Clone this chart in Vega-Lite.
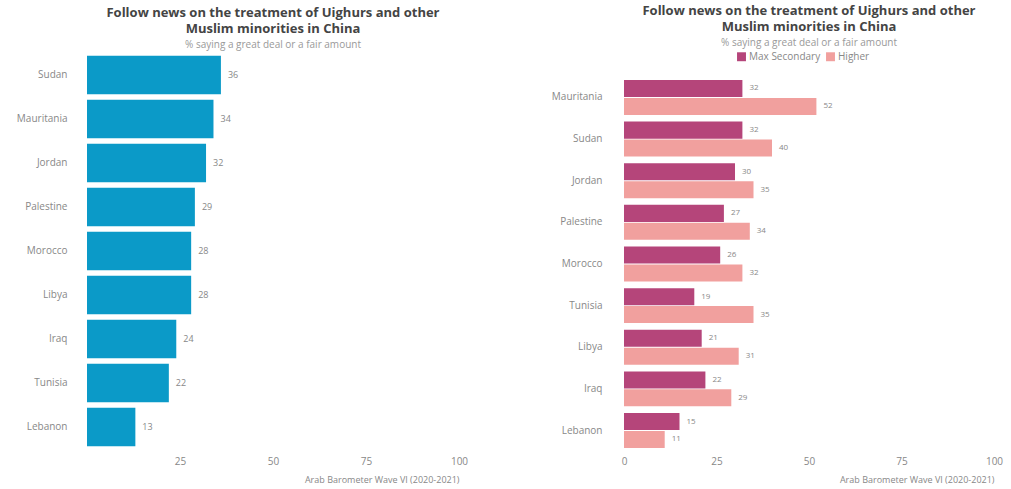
{
  "$schema": "https://vega.github.io/schema/vega-lite/v6.json",
  "background": "white",
  "padding": {"left": 16, "right": 5, "top": 5, "bottom": 0},
  "spacing": 83,
  "resolve": {"scale": {"color": "independent"}, "legend": {"color": "independent"}},
  "config": {
    "font": "Open Sans",
    "view": {"stroke": null},
    "axis": {"labelColor": "#888", "labelFont": "Open Sans", "titleFont": "Open Sans", "grid": false, "domain": false, "ticks": false, "labelFlush": false},
    "title": {"font": "Open Sans", "fontSize": 13, "fontWeight": "bold", "color": "#444", "lineHeight": 16, "subtitleColor": "#999", "subtitleFontSize": 10, "subtitleFont": "Open Sans", "anchor": "middle", "subtitlePadding": 4, "offset": 3}
  },
  "datasets": {
    "overall": [
      {"country": "Sudan", "value": 36},
      {"country": "Mauritania", "value": 34},
      {"country": "Jordan", "value": 32},
      {"country": "Palestine", "value": 29},
      {"country": "Morocco", "value": 28},
      {"country": "Libya", "value": 28},
      {"country": "Iraq", "value": 24},
      {"country": "Tunisia", "value": 22},
      {"country": "Lebanon", "value": 13}
    ],
    "education": [
      {"country": "Mauritania", "edu": "Max Secondary", "value": 32},
      {"country": "Mauritania", "edu": "Higher", "value": 52},
      {"country": "Sudan", "edu": "Max Secondary", "value": 32},
      {"country": "Sudan", "edu": "Higher", "value": 40},
      {"country": "Jordan", "edu": "Max Secondary", "value": 30},
      {"country": "Jordan", "edu": "Higher", "value": 35},
      {"country": "Palestine", "edu": "Max Secondary", "value": 27},
      {"country": "Palestine", "edu": "Higher", "value": 34},
      {"country": "Morocco", "edu": "Max Secondary", "value": 26},
      {"country": "Morocco", "edu": "Higher", "value": 32},
      {"country": "Tunisia", "edu": "Max Secondary", "value": 19},
      {"country": "Tunisia", "edu": "Higher", "value": 35},
      {"country": "Libya", "edu": "Max Secondary", "value": 21},
      {"country": "Libya", "edu": "Higher", "value": 31},
      {"country": "Iraq", "edu": "Max Secondary", "value": 22},
      {"country": "Iraq", "edu": "Higher", "value": 29},
      {"country": "Lebanon", "edu": "Max Secondary", "value": 15},
      {"country": "Lebanon", "edu": "Higher", "value": 11}
    ]
  },
  "hconcat": [
    {
      "width": 372,
      "height": 396,
      "title": {"text": ["Follow news on the treatment of Uighurs and other", "Muslim minorities in China"], "subtitle": "% saying a great deal or a fair amount"},
      "data": {"name": "overall"},
      "encoding": {
        "y": {"field": "country", "type": "nominal", "sort": null, "title": null, "scale": {"paddingInner": 0.12, "paddingOuter": 0.06}, "axis": {"labelFontSize": 10, "labelPadding": 20}},
        "x": {"field": "value", "type": "quantitative", "scale": {"domain": [0, 100]}, "axis": {"values": [25, 50, 75, 100], "labelFontSize": 10, "labelPadding": 7, "title": "Arab Barometer Wave VI (2020-2021)", "titleFontSize": 9, "titleFontWeight": "normal", "titleColor": "#888", "titleAnchor": "end", "titlePadding": 9}}
      },
      "layer": [
        {"mark": {"type": "bar", "color": "#0b9ac8"}},
        {"mark": {"type": "text", "align": "left", "dx": 7, "fontSize": 9, "color": "#888"}, "encoding": {"text": {"field": "value"}}}
      ]
    },
    {
      "width": 370,
      "height": 398,
      "title": {"text": ["Follow news on the treatment of Uighurs and other", "Muslim minorities in China"], "subtitle": "% saying a great deal or a fair amount"},
      "data": {"name": "education"},
      "encoding": {
        "y": {"field": "country", "type": "nominal", "sort": null, "title": null, "scale": {"paddingInner": 0.16, "paddingOuter": 0.36, "align": 0.9}, "axis": {"labelFontSize": 10, "labelPadding": 22}},
        "yOffset": {"field": "edu", "sort": ["Max Secondary", "Higher"], "scale": {"paddingInner": 0.05}},
        "x": {"field": "value", "type": "quantitative", "scale": {"domain": [0, 100]}, "axis": {"values": [0, 25, 50, 75, 100], "labelFontSize": 10, "labelPadding": 5, "title": "Arab Barometer Wave VI (2020-2021)", "titleFontSize": 9, "titleFontWeight": "normal", "titleColor": "#888", "titleAnchor": "end", "titlePadding": 9}}
      },
      "layer": [
        {"mark": {"type": "bar"}, "encoding": {"color": {"field": "edu", "sort": ["Max Secondary", "Higher"], "scale": {"domain": ["Max Secondary", "Higher"], "range": ["#b5457a", "#f1a09e"]}, "legend": {"title": null, "orient": "none", "legendX": 112, "legendY": -2, "direction": "horizontal", "symbolType": "square", "symbolSize": 80, "labelFontSize": 10, "labelColor": "#888", "columnPadding": 4, "labelOffset": 2, "padding": 0}}}},
        {"mark": {"type": "text", "align": "left", "dx": 7, "fontSize": 8, "color": "#888"}, "encoding": {"text": {"field": "value"}}}
      ]
    }
  ]
}
